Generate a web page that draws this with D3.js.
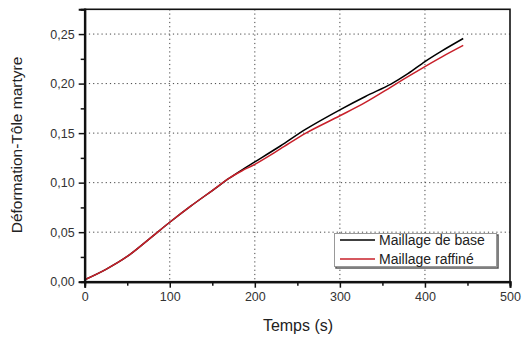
<!DOCTYPE html>
<html><head><meta charset="utf-8">
<script src="https://cdn.jsdelivr.net/npm/d3@7"></script>
<style>body{margin:0;background:#fff}svg{display:block}text{font-family:Arial,"Liberation Sans",sans-serif}</style>
</head><body><svg id="c" width="524" height="340"></svg>
<script>
const seriesNames = ["Maillage de base", "Maillage raffiné"];
const timeBase = [0, 25, 50, 75, 100, 125, 150, 170, 185, 200, 230, 260, 300, 330, 360, 380, 400, 420, 445];
const valuesBase = [0.002, 0.0125, 0.0255, 0.0425, 0.060, 0.0765, 0.092, 0.1045, 0.113, 0.121, 0.137, 0.154, 0.1735, 0.187, 0.1995, 0.210, 0.2222, 0.233, 0.2455];
const timeFine = [0, 25, 50, 75, 100, 125, 150, 170, 185, 200, 230, 260, 300, 330, 360, 380, 400, 420, 445];
const valuesFine = [0.002, 0.0125, 0.0255, 0.0425, 0.060, 0.0765, 0.092, 0.1045, 0.112, 0.1185, 0.134, 0.150, 0.1675, 0.181, 0.1965, 0.207, 0.2172, 0.227, 0.2385];
const xTicks = [0, 100, 200, 300, 400, 500];
const xMinor = [50, 150, 250, 350, 450];
const yTicks = [0, 0.05, 0.10, 0.15, 0.20, 0.25];
const yMinor = [0.025, 0.075, 0.125, 0.175, 0.225];
const colors = ["#000000", "#c8202a"];

const svg = d3.select("#c");
const L = 84.7, R = 510, T = 9.3, B = 281.7;
const x = d3.scaleLinear().domain([0, 500]).range([L, R]);
const y = d3.scaleLinear().domain([0, 0.275]).range([B, T]);
const fmt = d => d3.format(".2f")(d).replace(".", ",");

// grid
const grid = svg.append("g").attr("stroke", "#444").attr("stroke-width", 1).attr("stroke-dasharray", "1.2,3");
grid.selectAll(".gx").data(xTicks.filter(d => d > 0 && d < 500)).enter().append("line")
  .attr("x1", d => x(d)).attr("x2", d => x(d)).attr("y1", T).attr("y2", B);
grid.selectAll(".gy").data(yTicks.filter(d => d > 0)).enter().append("line")
  .attr("y1", d => y(d)).attr("y2", d => y(d)).attr("x1", L).attr("x2", R);

// curves
const line = d3.line().x(d => x(d[0])).y(d => y(d[1])).curve(d3.curveCatmullRom.alpha(0.5));
const data = [d3.zip(timeBase, valuesBase), d3.zip(timeFine, valuesFine)];
svg.selectAll(".curve").data(data).enter().append("path")
  .attr("d", line).attr("fill", "none").attr("stroke", (d, i) => colors[i]).attr("stroke-width", 1.5);

// frame
svg.append("rect").attr("x", L).attr("y", T).attr("width", R - L).attr("height", B - T)
  .attr("fill", "none").attr("stroke", "#111").attr("stroke-width", 1.6);

// axes
const xAxis = d3.axisBottom(x).tickValues(xTicks).tickSize(6).tickPadding(4).tickFormat(d3.format("d"));
svg.append("g").attr("transform", `translate(0,${B})`).call(xAxis);
const xAxisMinor = d3.axisBottom(x).tickValues(xMinor).tickSize(4).tickFormat("");
svg.append("g").attr("transform", `translate(0,${B})`).call(xAxisMinor);
const yAxis = d3.axisLeft(y).tickValues(yTicks).tickSize(6).tickPadding(4).tickFormat(fmt);
svg.append("g").attr("transform", `translate(${L},0)`).call(yAxis);
const yAxisMinor = d3.axisLeft(y).tickValues(yMinor).tickSize(4).tickFormat("");
svg.append("g").attr("transform", `translate(${L},0)`).call(yAxisMinor);
svg.selectAll(".domain").attr("stroke", "#111").attr("stroke-width", 2);
svg.selectAll(".tick line").attr("stroke", "#111").attr("stroke-width", 1.5);
svg.selectAll(".tick text").attr("font-size", 12.5).attr("fill", "#333").attr("font-family", "Arial, 'Liberation Sans', sans-serif");

// titles
svg.append("text").attr("x", 298).attr("y", 331).attr("text-anchor", "middle")
  .attr("font-size", 16).attr("fill", "#222").text("Temps (s)");
svg.append("text").attr("transform", "translate(22,145) rotate(-90)").attr("text-anchor", "middle")
  .attr("font-size", 15.5).attr("fill", "#222").text("Déformation-Tôle martyre");

// legend
const lg = svg.append("g");
lg.append("rect").attr("x", 336).attr("y", 235).attr("width", 162).attr("height", 33)
  .attr("fill", "none").attr("stroke", "#555").attr("stroke-width", 1.5);
lg.append("rect").attr("x", 334.5).attr("y", 233.5).attr("width", 162).attr("height", 33)
  .attr("fill", "#fff").attr("stroke", "#999").attr("stroke-width", 1);
seriesNames.forEach((n, i) => {
  const yy = 240 + i * 19;
  lg.append("line").attr("x1", 340).attr("x2", 375).attr("y1", yy).attr("y2", yy)
    .attr("stroke", colors[i]).attr("stroke-width", 1.5);
  lg.append("text").attr("x", 379).attr("y", yy + 5).attr("font-size", 14).attr("fill", "#222").text(n);
});
</script></body></html>
